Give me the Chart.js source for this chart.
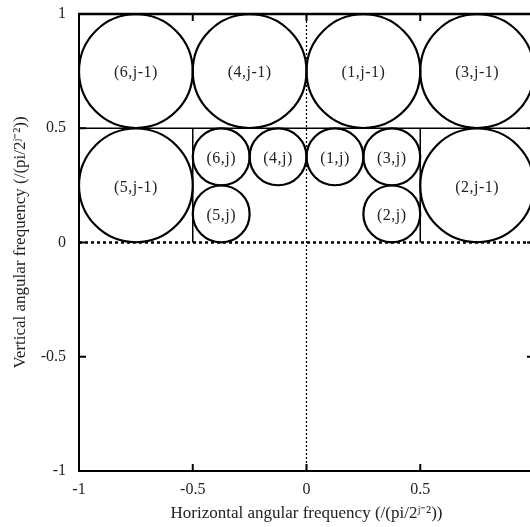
<!DOCTYPE html>
<html>
<head>
<meta charset="utf-8">
<script src="https://cdn.jsdelivr.net/npm/chart.js@4/dist/chart.umd.min.js"></script>
<style>
    html, body { margin: 0; padding: 0; background: #fff; overflow: hidden; }
    #contenedor { width: 545px; height: 527px; }
</style>
</head>
<body>
<div id="contenedor"><canvas id="grafica"></canvas></div>
<script>
// Círculos grandes (nivel j-1)
const grandesX = [-0.75, -0.25, 0.25, 0.75, -0.75, 0.75];
const grandesY = [0.75, 0.75, 0.75, 0.75, 0.25, 0.25];
const grandesEtiquetas = ['(6,j-1)', '(4,j-1)', '(1,j-1)', '(3,j-1)', '(5,j-1)', '(2,j-1)'];
const radioGrande = 0.25;

// Círculos pequeños (nivel j)
const pequenosX = [-0.375, -0.125, 0.125, 0.375, -0.375, 0.375];
const pequenosY = [0.375, 0.375, 0.375, 0.375, 0.125, 0.125];
const pequenosEtiquetas = ['(6,j)', '(4,j)', '(1,j)', '(3,j)', '(5,j)', '(2,j)'];
const radioPequeno = 0.125;

// Líneas de división
const lineaMedia = [[-1, 0.5], [1, 0.5]];
const divisionIzq = [[-0.5, 0], [-0.5, 0.5]];
const divisionDer = [[0.5, 0], [0.5, 0.5]];
const ejeHorizontal = [[-1, 0], [1, 0]];
const ejeVertical = [[0, -1], [0, 1]];

const ticksEjes = [-1, -0.5, 0, 0.5, 1];

const aPuntos = pares => pares.map(p => ({ x: p[0], y: p[1] }));

function radioEnPixeles(chart, r) {
    const s = chart.scales.x;
    return Math.abs(s.getPixelForValue(r) - s.getPixelForValue(0));
}

function datasetCirculos(xs, ys, radio, etiquetas) {
    return {
        type: 'scatter',
        data: xs.map((x, i) => ({ x: x, y: ys[i] })),
        etiquetas: etiquetas,
        pointRadius: ctx => radioEnPixeles(ctx.chart, radio),
        pointHoverRadius: ctx => radioEnPixeles(ctx.chart, radio),
        pointBackgroundColor: 'rgba(0,0,0,0)',
        pointBorderColor: '#000',
        pointBorderWidth: 2.2,
        order: 1
    };
}

function datasetLinea(pares, ancho, guiones) {
    return {
        type: 'line',
        data: aPuntos(pares),
        borderColor: '#000',
        borderWidth: ancho,
        borderDash: guiones,
        pointRadius: 0,
        fill: false,
        order: 2
    };
}

// Etiquetas de los círculos y marcas interiores de los ejes
const pluginExtras = {
    id: 'extras',
    afterDatasetsDraw(chart) {
        const ctx = chart.ctx;
        ctx.save();
        ctx.font = '16px "Liberation Serif", "Times New Roman", serif';
        ctx.letterSpacing = '0.5px';
        ctx.fillStyle = '#222';
        ctx.textAlign = 'center';
        ctx.textBaseline = 'middle';
        chart.data.datasets.forEach((ds, i) => {
            if (!ds.etiquetas) return;
            chart.getDatasetMeta(i).data.forEach((el, j) => {
                ctx.fillText(ds.etiquetas[j], el.x, el.y + 2);
            });
        });
        ctx.restore();

        const area = chart.chartArea;
        const sx = chart.scales.x;
        const sy = chart.scales.y;
        ctx.save();
        ctx.strokeStyle = '#000';
        ctx.lineWidth = 2.5;
        ctx.beginPath();
        ctx.moveTo(area.left - 1, area.top);
        ctx.lineTo(area.right, area.top);
        ctx.stroke();
        ctx.lineWidth = 2;
        ticksEjes.slice(1, -1).forEach(v => {
            const px = sx.getPixelForValue(v);
            ctx.beginPath();
            ctx.moveTo(px, area.bottom);
            ctx.lineTo(px, area.bottom - 7);
            ctx.moveTo(px, area.top);
            ctx.lineTo(px, area.top + 7);
            ctx.stroke();
            const py = sy.getPixelForValue(v);
            ctx.beginPath();
            ctx.moveTo(area.left, py);
            ctx.lineTo(area.left + 7, py);
            ctx.moveTo(area.right, py);
            ctx.lineTo(area.right - 7, py);
            ctx.stroke();
        });
        ctx.restore();
    }
};

const fuenteTicks = { family: '"Liberation Serif", "Times New Roman", serif', size: 16 };
const fuenteTitulo = { family: '"Liberation Serif", "Times New Roman", serif', size: 17 };

new Chart(document.getElementById('grafica'), {
    type: 'scatter',
    data: {
        datasets: [
            datasetCirculos(grandesX, grandesY, radioGrande, grandesEtiquetas),
            datasetCirculos(pequenosX, pequenosY, radioPequeno, pequenosEtiquetas),
            datasetLinea(lineaMedia, 1.5, []),
            datasetLinea(divisionIzq, 1.5, []),
            datasetLinea(divisionDer, 1.5, []),
            datasetLinea(ejeHorizontal, 2.5, [3, 3]),
            datasetLinea(ejeVertical, 1.2, [2, 2])
        ]
    },
    options: {
        responsive: true,
        maintainAspectRatio: false,
        animation: false,
        events: [],
        layout: { padding: { top: 14, right: 11, left: 0, bottom: 0 } },
        plugins: {
            legend: { display: false },
            tooltip: { enabled: false }
        },
        scales: {
            x: {
                type: 'linear',
                min: -1,
                max: 1,
                afterBuildTicks: s => { s.ticks = ticksEjes.map(v => ({ value: v })); },
                afterFit: s => { s.height = 56; s.paddingLeft = 0; s.paddingRight = 0; },
                grid: { display: false, drawTicks: false },
                border: { display: true, color: '#000', width: 2 },
                ticks: { color: '#222', font: fuenteTicks, padding: 9, maxRotation: 0, callback: v => String(v) },
                title: {
                    display: true,
                    text: 'Horizontal angular frequency (/(pi/2ʲ⁻²))',
                    color: '#222',
                    font: fuenteTitulo,
                    padding: { top: 0, bottom: 3 }
                }
            },
            y: {
                type: 'linear',
                min: -1,
                max: 1,
                afterBuildTicks: s => { s.ticks = ticksEjes.map(v => ({ value: v })); },
                afterFit: s => { s.width = 79; s.paddingTop = 0; s.paddingBottom = 0; },
                grid: { display: false, drawTicks: false },
                border: { display: true, color: '#000', width: 2 },
                ticks: { color: '#222', font: fuenteTicks, padding: 13, callback: v => String(v) },
                title: {
                    display: true,
                    text: 'Vertical angular frequency (/(pi/2ʲ⁻²))',
                    color: '#222',
                    font: fuenteTitulo,
                    padding: { top: 10, bottom: 0 }
                }
            }
        }
    },
    plugins: [pluginExtras]
});
</script>
</body>
</html>
